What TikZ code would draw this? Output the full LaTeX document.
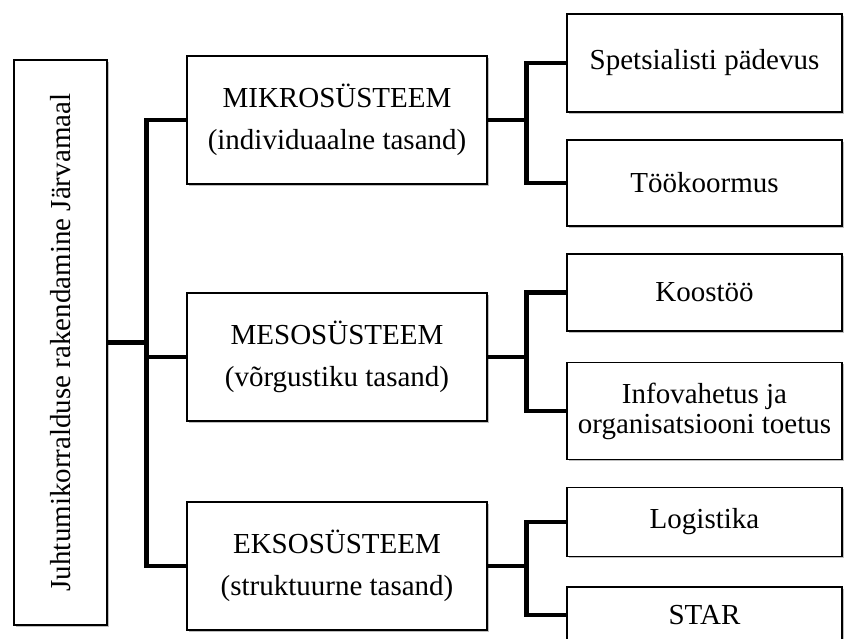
\documentclass[tikz,border=0pt]{standalone}
\usepackage{fontspec}
\setmainfont{Liberation Serif}
\usetikzlibrary{positioning,calc,shadows}
\tikzset{
  orgline/.style={line width=4.5pt, draw=black},
  orgbox/.style={draw, line width=1.2pt, fill=white, align=center, inner sep=2pt,
    drop shadow={shadow xshift=1.5pt, shadow yshift=-1.5pt, opacity=0.25, fill=black}},
}

\begin{document}
\begin{tikzpicture}[
  x=1pt, y=-1pt,
  font=\fontsize{29}{42}\selectfont,
  sys/.style={orgbox, minimum width=300pt, minimum height=128pt},
  leaf/.style={orgbox, minimum width=275pt},
]
  \useasboundingbox (0,0) rectangle (844,638);

  % Root
  \node[orgbox, minimum width=93pt, minimum height=565pt] (root) at (60.5,342.5)
    {\rotatebox{90}{Juhtumikorralduse rakendamine Järvamaal}};

  % Systems
  \node[sys] (mikro) at (337,120) {MIKROSÜSTEEM\\(individuaalne tasand)};
  \node[sys] (meso) at (337,357) {MESOSÜSTEEM\\(võrgustiku tasand)};
  \node[sys] (ekso) at (337,566) {EKSOSÜSTEEM\\(struktuurne tasand)};

  % Factors
  \node[leaf, minimum height=98pt] (spets) at (704.5,63) {Spetsialisti pädevus};
  \node[leaf, minimum height=86pt] (too) at (704.5,183) {Töökoormus};
  \node[leaf, minimum height=77pt] (koos) at (704.5,292.5) {Koostöö};
  \node[leaf, minimum height=97pt, font=\fontsize{29}{30}\selectfont] (info) at (704.5,411)
    {Infovahetus ja\\organisatsiooni toetus};
  \node[leaf, minimum height=69pt] (logi) at (704.5,522) {Logistika};
  \node[leaf, minimum height=56pt] (star) at (704.5,615) {STAR};

  % Root to systems
  \draw[orgline] (root.east) -- ++(40,0);
  \draw[orgline] (mikro.west) -- ++(-40,0) |- (ekso.west);
  \draw[orgline] (meso.west) -- ++(-40,0);

  % Systems to factors
  \draw[orgline] (mikro.east) -- ++(40,0);
  \draw[orgline] (spets.west) -- ++(-40,0) |- (too.west);
  \draw[orgline] (meso.east) -- ++(40,0);
  \draw[orgline] (koos.west) -- ++(-40,0) |- (info.west);
  \draw[orgline] (ekso.east) -- ++(40,0);
  \draw[orgline] (logi.west) -- ++(-40,0) |- (star.west);

\end{tikzpicture}
\end{document}
